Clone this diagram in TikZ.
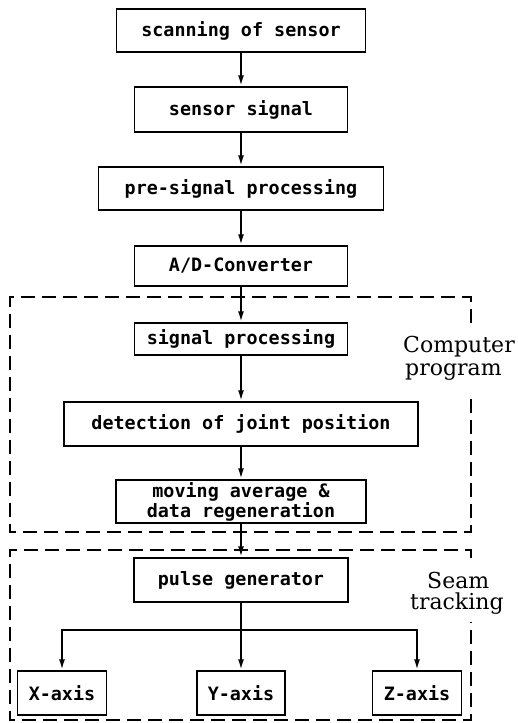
\documentclass[tikz,border=0pt]{standalone}
\usepackage{fontspec}
\newfontfamily\boxfont{DejaVu Sans Mono}
\newfontfamily\lblfont{DejaVu Serif}
\usetikzlibrary{arrows.meta}
\begin{document}
\begin{tikzpicture}[x=1pt,y=-1pt,
  stepbox/.style={draw, line width=1.5pt, inner sep=0pt, align=center,
    font=\boxfont\bfseries\fontsize{18.4}{20}\selectfont},
  conn/.style={line width=2pt, -{Latex[length=11pt,width=6pt]}},
  plain/.style={line width=2pt},
  group/.style={line width=1.4pt, dash pattern=on 14pt off 7pt},
  lbl/.style={font=\lblfont\fontsize{22}{24}\selectfont, inner sep=0pt, anchor=base west}]
\useasboundingbox (0,0) rectangle (518,723);
\fill[white] (0,0) rectangle (518,723);

\node[stepbox, minimum width=249pt, minimum height=43pt] (n1) at (241,30.5) {scanning of sensor};
\node[stepbox, minimum width=213pt, minimum height=45pt] (n2) at (241,109.5) {sensor signal};
\node[stepbox, minimum width=285pt, minimum height=43pt] (n3) at (241,188.5) {pre-signal processing};
\node[stepbox, minimum width=213pt, minimum height=40pt] (n4) at (241,266) {A/D-Converter};
\node[stepbox, minimum width=213pt, minimum height=32pt] (n5) at (241,339) {signal processing};
\node[stepbox, minimum width=354pt, minimum height=44pt] (n6) at (241,424) {detection of joint position};
\node[stepbox, minimum width=250pt, minimum height=43pt] (n7) at (241,501.5) {moving average \&\\data regeneration};
\node[stepbox, minimum width=214pt, minimum height=44pt] (n8) at (241,580) {pulse generator};
\node[stepbox, minimum width=89pt, minimum height=44pt] (nx) at (62,693) {X-axis};
\node[stepbox, minimum width=88pt, minimum height=44pt] (ny) at (241,693) {Y-axis};
\node[stepbox, minimum width=89pt, minimum height=44pt] (nz) at (417,693) {Z-axis};

\draw[group] (471,323) -- (471,297) -- (10,297) -- (10,532) -- (471,532) -- (471,395);
\draw[group] (471,558) -- (471,550) -- (10,550) -- (10,720) -- (471,720) -- (471,622);

\node[lbl] (c1) at (403,352) {Computer};
\node[lbl] (c2) at (405,375) {program};
\node[lbl] (s1) at (427,588) {Seam};
\node[lbl] (s2) at (410,609) {tracking};

\draw[conn] (n1) -- (n2);
\draw[conn] (n2) -- (n3);
\draw[conn] (n3) -- (n4);
\draw[conn] (n4) -- (n5);
\draw[conn] (n5) -- (n6);
\draw[conn] (n6) -- (n7);
\draw[conn] (n7) -- (n8);
\coordinate (j) at (241,630);
\draw[plain] (n8.south) -- (j);
\draw[conn] (j) -| (nx.north);
\draw[conn] (j) -- (ny.north);
\draw[conn] (j) -| (nz.north);
\end{tikzpicture}
\end{document}
